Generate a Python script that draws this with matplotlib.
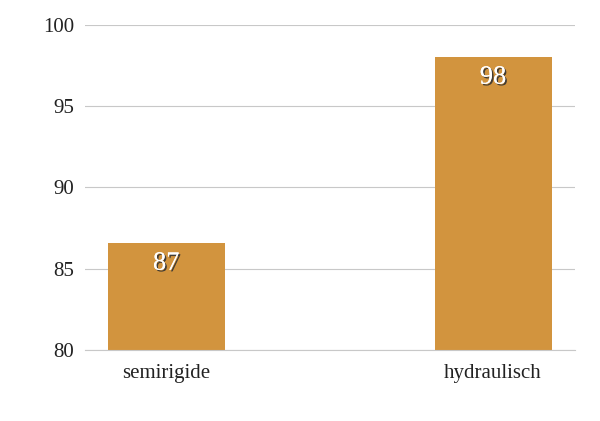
import matplotlib
matplotlib.use("Agg")
import matplotlib.pyplot as plt
import matplotlib.patheffects as pe

categories = ["semirigide", "hydraulisch"]
values = [86.6, 98.05]
labels = ["87", "98"]
y_ticks = [80, 85, 90, 95, 100]

plt.rcParams["font.family"] = ["Liberation Serif", "DejaVu Serif"]

fig = plt.figure(figsize=(6, 4.21), dpi=100)
ax = fig.add_axes([0.142, 0.169, 0.816, 0.772])
x = list(range(len(categories)))
ax.bar(x, values, width=0.358, color="#d2943e", zorder=2, bottom=0)
ax.set_ylim(80, 100)
ax.set_xlim(-0.248, 1.25)
ax.set_yticks(y_ticks)
ax.set_xticks(x)
ax.set_xticklabels(categories)
ax.grid(axis="y", color="#c8c8c8", linewidth=0.8, zorder=0)
for side in ["top", "right", "left"]:
    ax.spines[side].set_visible(False)
ax.spines["bottom"].set_color("#c8c8c8")
ax.tick_params(axis="both", length=0, labelsize=15, colors="#222222", pad=8)
ax.tick_params(axis="x", pad=10)

for xi, v, lab in zip(x, values, labels):
    ax.text(xi, v - 1.3, lab, ha="center", va="center", fontsize=19, color="white",
            zorder=3,
            path_effects=[pe.withSimplePatchShadow(offset=(1.2, -1.2), shadow_rgbFace="#333333", alpha=0.9),
                          pe.Normal()])

fig.savefig("out.png", dpi=100)
